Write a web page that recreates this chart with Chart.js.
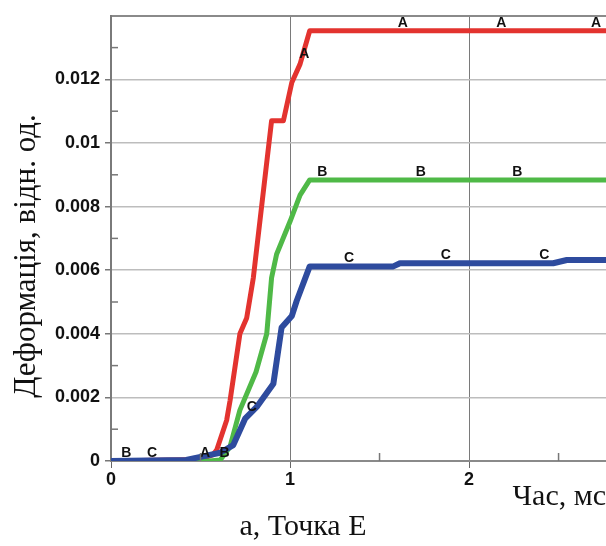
<!DOCTYPE html>
<html>
<head>
<meta charset="utf-8">
<script src="https://cdn.jsdelivr.net/npm/chart.js@4/dist/chart.umd.min.js"></script>
<style>
  body { margin: 0; background: #fff; }
  #wrap { width: 606px; height: 546px; }
</style>
</head>
<body>
<div id="wrap"><canvas id="deformChart"></canvas></div>
<script>
// Дані (час, мс / деформація, відн. од.)
const timeA = [0, 0.50, 0.57, 0.59, 0.646, 0.665, 0.72, 0.758, 0.795, 0.897, 0.963, 1.01, 1.056, 1.11, 2.765];
const strainA = [0, 0.00005, 0.0002, 0.00034, 0.00128, 0.0019, 0.004, 0.0045, 0.00576, 0.0107, 0.0107, 0.0119, 0.01248, 0.01353, 0.01353];

const timeB = [0, 0.55, 0.61, 0.665, 0.72, 0.81, 0.87, 0.897, 0.925, 1.0, 1.056, 1.11, 2.765];
const strainB = [0, 0, 0.00003, 0.00045, 0.0016, 0.0028, 0.004, 0.00576, 0.0065, 0.00753, 0.00836, 0.00884, 0.00884];

const timeC = [0, 0.42, 0.5, 0.61, 0.683, 0.749, 0.814, 0.907, 0.953, 1.01, 1.037, 1.11, 1.577, 1.614, 2.47, 2.546, 2.765];
const strainC = [0, 0.00003, 0.00013, 0.00026, 0.0005, 0.00133, 0.0017, 0.00243, 0.0042, 0.00456, 0.00503, 0.00612, 0.00612, 0.00622, 0.00622, 0.00632, 0.00632];

// позначки-літери на кривих
const markTimeA = [0.525, 1.08, 1.63, 2.18, 2.71];
const markStrainA = [0, 0.01253, 0.01353, 0.01353, 0.01353];
const markTimeB = [0.085, 0.635, 1.18, 1.73, 2.27];
const markStrainB = [0, 0, 0.00884, 0.00884, 0.00884];
const markTimeC = [0.23, 0.786, 1.33, 1.87, 2.42];
const markStrainC = [0, 0.00144, 0.00612, 0.00622, 0.00622];

const xTicks = [0, 1, 2];
const yTicks = [0, 0.002, 0.004, 0.006, 0.008, 0.01, 0.012];

const yTitle = 'Деформація, відн. од.';

function toPoints(xs, ys) {
  return xs.map((x, i) => ({ x: x, y: ys[i] }));
}

const tickFont = { family: 'Liberation Sans, Arial', size: 18, weight: 'bold' };
const serifFont = { family: 'Liberation Serif, Times New Roman', size: 30, weight: 'normal', lineHeight: 1 };

// Літери A, B, C біля кривих
const letterPlugin = {
  id: 'letters',
  afterDatasetsDraw(chart) {
    const ctx = chart.ctx;
    const xs = chart.scales.x, ys = chart.scales.y;
    const sets = [['A', markTimeA, markStrainA], ['B', markTimeB, markStrainB], ['C', markTimeC, markStrainC]];
    ctx.save();
    ctx.font = 'bold 14px Liberation Sans, Arial';
    ctx.fillStyle = '#111';
    ctx.textAlign = 'center';
    ctx.textBaseline = 'bottom';
    sets.forEach(([txt, mx, my]) => {
      mx.forEach((t, i) => {
        ctx.fillText(txt, xs.getPixelForValue(t), ys.getPixelForValue(my[i]) - 1);
      });
    });
    ctx.restore();
  }
};

// Малі поділки всередині області графіка + підпис осі Y
const extras = {
  id: 'extras',
  afterDraw(chart) {
    const ctx = chart.ctx;
    const a = chart.chartArea;
    const xs = chart.scales.x, ys = chart.scales.y;
    ctx.save();
    ctx.strokeStyle = '#777';
    ctx.lineWidth = 1.5;
    ys.ticks.forEach(t => {
      const k = Math.round(t.value * 1000);
      if (k % 2 === 1) {
        const py = ys.getPixelForValue(t.value);
        ctx.beginPath(); ctx.moveTo(a.left, py); ctx.lineTo(a.left + 7, py); ctx.stroke();
      }
    });
    xs.ticks.forEach(t => {
      const k = Math.round(t.value * 2);
      if (k % 2 === 1) {
        const px = xs.getPixelForValue(t.value);
        ctx.beginPath(); ctx.moveTo(px, a.bottom); ctx.lineTo(px, a.bottom - 8); ctx.stroke();
      }
    });
    // y title
    ctx.translate(27, 256);
    ctx.rotate(-Math.PI / 2);
    ctx.font = '31px Liberation Serif, Times New Roman';
    ctx.fillStyle = '#111';
    ctx.textAlign = 'center';
    ctx.textBaseline = 'middle';
    ctx.fillText(yTitle, 0, 0);
    ctx.restore();
  }
};

new Chart(document.getElementById('deformChart'), {
  type: 'line',
  data: {
    datasets: [
      { label: 'C', data: toPoints(timeC, strainC), borderColor: '#2e4b9e', borderWidth: 6, order: 0 },
      { label: 'B', data: toPoints(timeB, strainB), borderColor: '#4fb947', borderWidth: 5, order: 1 },
      { label: 'A', data: toPoints(timeA, strainA), borderColor: '#e3332f', borderWidth: 5, order: 2 }
    ]
  },
  options: {
    responsive: true,
    maintainAspectRatio: false,
    animation: false,
    elements: { point: { radius: 0 }, line: { tension: 0, borderJoinStyle: 'round', borderCapStyle: 'round' } },
    layout: { padding: { top: 13, left: 0, right: 0, bottom: 0 } },
    plugins: {
      legend: { display: false },
      tooltip: { enabled: false },
      title: {
        display: true,
        position: 'bottom',
        text: 'а, Точка Е',
        font: serifFont,
        color: '#111',
        padding: { top: 0, bottom: 4 }
      }
    },
    scales: {
      x: {
        type: 'linear',
        min: 0,
        max: 2.765,
        afterFit(s) { s.height = 51; },
        ticks: {
          stepSize: 0.5,
          includeBounds: false,
          autoSkip: false,
          maxRotation: 0,
          padding: 1,
          color: '#111',
          font: tickFont,
          callback: v => xTicks.includes(v) ? String(v) : ''
        },
        grid: {
          color: c => (c.tick && c.tick.value > 0 && xTicks.includes(c.tick.value)) ? '#7a7a7a' : 'rgba(0,0,0,0)',
          lineWidth: 1,
          tickLength: 7,
          tickColor: c => (c.tick && xTicks.includes(c.tick.value)) ? '#666' : 'rgba(0,0,0,0)'
        },
        border: { color: '#8a8a8a', width: 2 },
        title: {
          display: true,
          text: 'Час, мс',
          align: 'end',
          font: serifFont,
          color: '#111',
          padding: { top: 0, bottom: 0 }
        }
      },
      y: {
        type: 'linear',
        min: 0,
        max: 0.014,
        afterFit(s) { s.width = 111; },
        ticks: {
          stepSize: 0.001,
          autoSkip: false,
          padding: 5,
          color: '#111',
          font: tickFont,
          callback: v => {
            const k = Math.round(v * 1000);
            return yTicks.some(t => Math.round(t * 1000) === k) ? String(k / 1000) : '';
          }
        },
        grid: {
          color: c => {
            if (!c.tick) return 'rgba(0,0,0,0)';
            const k = Math.round(c.tick.value * 1000);
            if (k === 14) return '#8a8a8a';
            if (k === 0) return 'rgba(0,0,0,0)';
            return k % 2 === 0 ? '#bdbdbd' : 'rgba(0,0,0,0)';
          },
          lineWidth: c => (c.tick && Math.round(c.tick.value * 1000) === 14) ? 2 : 1.5,
          tickLength: 6,
          tickColor: c => {
            if (!c.tick) return 'rgba(0,0,0,0)';
            const k = Math.round(c.tick.value * 1000);
            return (k % 2 === 0 && k < 14) ? '#777' : 'rgba(0,0,0,0)';
          }
        },
        border: { color: '#7a7a7a', width: 2 }
      }
    }
  },
  plugins: [letterPlugin, extras]
});
</script>
</body>
</html>
